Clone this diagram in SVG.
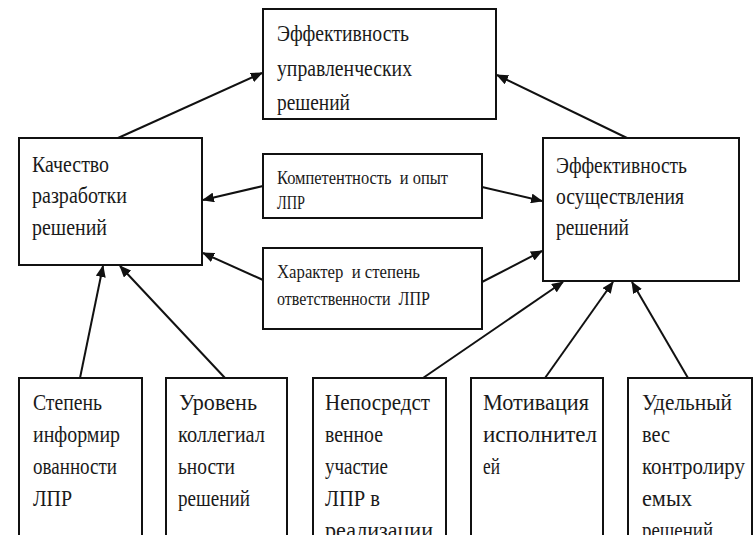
<svg xmlns="http://www.w3.org/2000/svg" width="754" height="535" viewBox="0 0 754 535">
  <defs>
    <marker id="arrow" markerUnits="userSpaceOnUse" markerWidth="12" markerHeight="10" refX="11" refY="5" orient="auto">
      <path d="M0,0 L12,5 L0,10 Z" fill="#111"/>
    </marker>
    <style>
      .box { fill: #fff; stroke: #111; stroke-width: 2; }
      .lbl { font-family: 'Liberation Serif', 'Times New Roman', 'DejaVu Serif', serif; font-size: 24px; fill: #1a1a1a; white-space: pre; }
      .sm { font-size: 19px; }
      .edge { stroke: #111; stroke-width: 2; fill: none; marker-end: url(#arrow); }
    </style>
  </defs>
  <rect width="754" height="535" fill="#fff"/>

  <!-- connectors -->
  <g id="connectors">
    <line class="edge" x1="118" y1="138" x2="262" y2="73"/>
    <line class="edge" x1="627" y1="138" x2="497" y2="75"/>
    <line class="edge" x1="263" y1="186" x2="203" y2="200"/>
    <line class="edge" x1="482" y1="187" x2="542" y2="201"/>
    <line class="edge" x1="263" y1="280" x2="203" y2="253"/>
    <line class="edge" x1="482" y1="282" x2="542" y2="251"/>
    <line class="edge" x1="80" y1="378" x2="103" y2="266"/>
    <line class="edge" x1="225" y1="378" x2="120" y2="266"/>
    <line class="edge" x1="423" y1="378" x2="563" y2="282"/>
    <line class="edge" x1="545" y1="378" x2="613" y2="282"/>
    <line class="edge" x1="688" y1="378" x2="632" y2="282"/>
  </g>

  <!-- top: overall efficiency -->
  <g id="node-top">
    <rect class="box" x="263" y="9" width="233" height="110"/>
    <text class="lbl" x="277" y="41" textLength="132" lengthAdjust="spacingAndGlyphs">Эффективность</text>
    <text class="lbl" x="277" y="76" textLength="135" lengthAdjust="spacingAndGlyphs">управленческих</text>
    <text class="lbl" x="277" y="110" textLength="73" lengthAdjust="spacingAndGlyphs">решений</text>
  </g>

  <g id="node-quality">
    <rect class="box" x="19" y="138" width="183" height="127"/>
    <text class="lbl" x="32" y="172" textLength="77" lengthAdjust="spacingAndGlyphs">Качество</text>
    <text class="lbl" x="32" y="203" textLength="95" lengthAdjust="spacingAndGlyphs">разработки</text>
    <text class="lbl" x="32" y="235" textLength="75" lengthAdjust="spacingAndGlyphs">решений</text>
  </g>

  <g id="node-implementation">
    <rect class="box" x="543" y="138" width="196" height="143"/>
    <text class="lbl" x="556" y="173" textLength="131" lengthAdjust="spacingAndGlyphs">Эффективность</text>
    <text class="lbl" x="556" y="204" textLength="128" lengthAdjust="spacingAndGlyphs">осуществления</text>
    <text class="lbl" x="556" y="235" textLength="73" lengthAdjust="spacingAndGlyphs">решений</text>
  </g>

  <g id="node-competence">
    <rect class="box" x="263" y="154" width="219" height="64"/>
    <text class="lbl sm" x="277" y="184" textLength="171" lengthAdjust="spacingAndGlyphs">Компетентность  и опыт</text>
    <text class="lbl sm" x="277" y="209" textLength="28" lengthAdjust="spacingAndGlyphs">ЛПР</text>
  </g>

  <g id="node-responsibility">
    <rect class="box" x="263" y="248" width="219" height="81"/>
    <text class="lbl sm" x="277" y="278" textLength="143" lengthAdjust="spacingAndGlyphs">Характер  и степень</text>
    <text class="lbl sm" x="277" y="305" textLength="153" lengthAdjust="spacingAndGlyphs">ответственности  ЛПР</text>
  </g>

  <!-- bottom row factors (boxes run past the lower edge) -->
  <g id="node-information">
    <rect class="box" x="19" y="378" width="123" height="170"/>
    <text class="lbl" x="33" y="410" textLength="69" lengthAdjust="spacingAndGlyphs">Степень</text>
    <text class="lbl" x="33" y="442" textLength="87" lengthAdjust="spacingAndGlyphs">информир</text>
    <text class="lbl" x="33" y="474" textLength="84" lengthAdjust="spacingAndGlyphs">ованности</text>
    <text class="lbl" x="33" y="506" textLength="39" lengthAdjust="spacingAndGlyphs">ЛПР</text>
  </g>

  <g id="node-collegiality">
    <rect class="box" x="166" y="378" width="121" height="170"/>
    <text class="lbl" x="179" y="410" textLength="78" lengthAdjust="spacingAndGlyphs">Уровень</text>
    <text class="lbl" x="178" y="442" textLength="87" lengthAdjust="spacingAndGlyphs">коллегиал</text>
    <text class="lbl" x="178" y="474" textLength="57" lengthAdjust="spacingAndGlyphs">ьности</text>
    <text class="lbl" x="178" y="506" textLength="72" lengthAdjust="spacingAndGlyphs">решений</text>
  </g>

  <g id="node-participation">
    <rect class="box" x="313" y="378" width="133" height="170"/>
    <text class="lbl" x="325" y="410" textLength="105" lengthAdjust="spacingAndGlyphs">Непосредст</text>
    <text class="lbl" x="325" y="442" textLength="58" lengthAdjust="spacingAndGlyphs">венное</text>
    <text class="lbl" x="325" y="474" textLength="63" lengthAdjust="spacingAndGlyphs">участие</text>
    <text class="lbl" x="325" y="506" textLength="55" lengthAdjust="spacingAndGlyphs">ЛПР в</text>
    <text class="lbl" x="325" y="538" textLength="108" lengthAdjust="spacingAndGlyphs">реализации</text>
  </g>

  <g id="node-motivation">
    <rect class="box" x="471" y="378" width="132" height="170"/>
    <text class="lbl" x="483" y="410" textLength="106" lengthAdjust="spacingAndGlyphs">Мотивация</text>
    <text class="lbl" x="483" y="442" textLength="114" lengthAdjust="spacingAndGlyphs">исполнител</text>
    <text class="lbl" x="483" y="474" textLength="17" lengthAdjust="spacingAndGlyphs">ей</text>
  </g>

  <g id="node-control">
    <rect class="box" x="628" y="378" width="124" height="170"/>
    <text class="lbl" x="642" y="410" textLength="90" lengthAdjust="spacingAndGlyphs">Удельный</text>
    <text class="lbl" x="642" y="442" textLength="28" lengthAdjust="spacingAndGlyphs">вес</text>
    <text class="lbl" x="642" y="474" textLength="103" lengthAdjust="spacingAndGlyphs">контролиру</text>
    <text class="lbl" x="642" y="506" textLength="50" lengthAdjust="spacingAndGlyphs">емых</text>
    <text class="lbl" x="642" y="538" textLength="71" lengthAdjust="spacingAndGlyphs">решений</text>
  </g>
</svg>
